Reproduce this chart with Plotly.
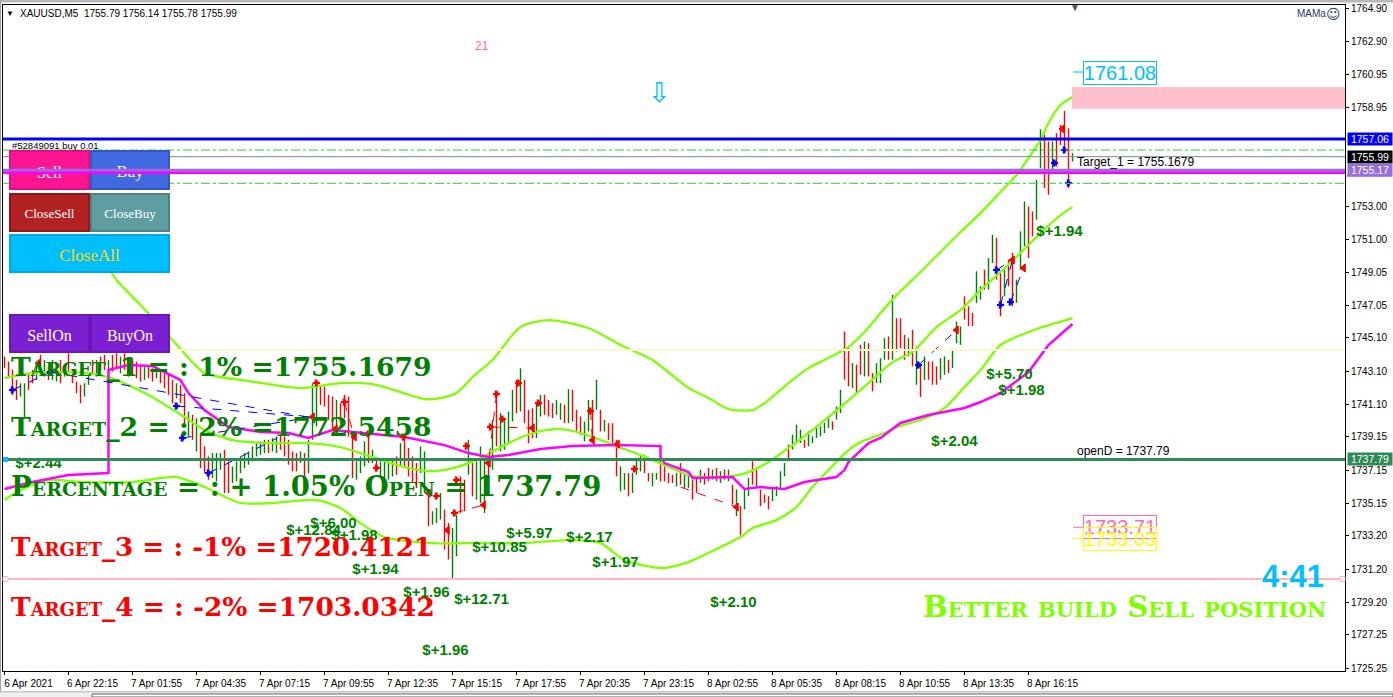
import plotly.graph_objects as go

# ---------- data ----------
high = [
1743.97,1743.67,1743.17,1742.57,1742.37,1742.37,1742.97,1743.17,1743.57,1744.07,
1743.77,1743.37,1743.77,1743.57,1743.77,1743.47,1744.17,1743.17,1742.47,1742.27,
1742.37,1742.97,1743.77,1743.77,1743.97,1744.07,1743.77,1744.07,1744.17,1743.97,
1744.17,1743.77,1743.87,1743.67,1743.47,1743.37,1743.47,1743.27,1743.37,1743.17,
1742.97,1742.87,1742.57,1742.37,1742.27,1741.77,1740.67,1740.47,1740.27,1739.37,
1738.57,1737.97,1738.17,1738.17,1738.17,1738.37,1737.67,1737.37,1737.67,1737.97,
1738.17,1738.27,1738.57,1738.77,1738.87,1738.97,1738.97,1739.07,1739.17,1739.27,
1739.17,1738.97,1738.27,1738.17,1738.27,1738.17,1738.97,1742.37,1742.37,1742.27,
1742.17,1741.67,1741.57,1741.37,1741.17,1741.67,1741.57,1739.47,1737.67,1737.97,
1738.87,1739.37,1738.37,1737.77,1737.67,1737.67,1737.57,1737.77,1737.97,1738.77,
1739.17,1738.47,1737.97,1737.57,1738.57,1738.27,1735.87,1734.67,1734.87,1735.77,
1734.77,1733.97,1733.67,1734.47,1736.77,1736.57,1738.97,1737.57,1737.67,1738.57,
1737.77,1737.77,1740.17,1741.77,1740.57,1740.17,1740.67,1741.97,1742.57,1743.27,
1742.57,1740.77,1740.87,1741.17,1741.67,1741.67,1741.37,1741.17,1741.37,1741.17,
1741.07,1742.01,1741.97,1740.77,1740.37,1740.07,1741.37,1741.37,1742.57,1740.77,
1740.17,1739.97,1739.97,1738.97,1737.37,1736.97,1736.97,1736.97,1737.77,1738.07,
1738.07,1736.97,1736.97,1736.97,1737.77,1737.37,1736.97,1736.87,1736.97,1737.57,
1736.97,1736.88,1736.58,1736.78,1737.18,1736.98,1737.28,1737.18,1737.28,1737.08,
1737.18,1737.18,1736.28,1735.98,1734.98,1736.08,1736.68,1737.68,1737.18,1735.98,
1735.68,1735.58,1736.08,1736.18,1737.08,1737.58,1738.68,1739.28,1739.88,1739.58,
1738.98,1739.48,1739.18,1739.68,1739.78,1739.98,1740.38,1740.08,1740.98,1741.98,
1745.48,1744.48,1743.58,1743.48,1744.68,1744.88,1744.78,1742.98,1743.58,1743.88,
1745.08,1745.18,1747.68,1746.28,1746.28,1745.28,1745.08,1745.58,1744.58,1743.48,
1743.98,1743.68,1743.68,1743.38,1743.88,1743.98,1743.78,1744.38,1746.08,1745.78,
1747.6,1747.0,1746.6,1749.1,1748.2,1749.2,1749.9,1751.3,1751.1,1749.0,
1749.2,1749.8,1750.2,1748.6,1751.5,1753.3,1753.0,1752.7,1754.6,1757.64,
1757.3,1756.9,1756.9,1757.4,1757.9,1758.74,1757.7,1756.2]
low = [
1743.27,1742.77,1741.67,1741.37,1741.57,1740.27,1741.97,1742.37,1742.57,1742.97,
1742.77,1742.57,1742.57,1742.47,1742.37,1742.77,1742.97,1742.37,1741.77,1741.17,
1741.57,1742.27,1742.97,1742.77,1743.17,1743.17,1742.77,1743.07,1743.27,1742.97,
1743.17,1742.77,1742.87,1742.67,1742.47,1742.57,1742.67,1742.47,1742.67,1742.37,
1742.07,1741.67,1741.17,1741.47,1741.17,1739.77,1739.17,1738.97,1738.27,1737.27,
1736.97,1736.57,1736.67,1736.47,1737.17,1735.77,1735.77,1736.37,1736.47,1736.97,
1737.27,1737.47,1737.67,1737.97,1738.07,1738.17,1738.17,1738.27,1738.17,1738.37,
1737.97,1737.47,1737.07,1737.07,1737.57,1736.67,1736.97,1738.97,1739.77,1741.07,
1740.97,1740.17,1739.67,1739.57,1739.97,1740.27,1739.17,1736.67,1736.57,1736.97,
1737.37,1737.57,1737.57,1737.07,1736.77,1736.47,1736.57,1736.77,1736.87,1737.37,
1737.37,1736.77,1736.37,1736.07,1736.97,1735.77,1733.77,1733.87,1733.97,1734.17,
1732.37,1731.77,1730.61,1731.97,1734.57,1734.67,1736.87,1735.57,1735.37,1735.17,
1734.57,1736.67,1737.17,1738.57,1738.27,1738.37,1738.77,1740.07,1740.57,1740.67,
1739.97,1738.77,1739.07,1739.07,1740.37,1740.47,1740.37,1740.27,1740.47,1740.17,
1739.97,1739.97,1740.07,1739.47,1739.27,1738.87,1739.47,1738.87,1740.77,1739.47,
1739.47,1738.97,1738.67,1736.77,1735.87,1735.97,1735.57,1735.77,1736.87,1737.07,
1736.97,1736.47,1736.17,1736.57,1736.47,1736.47,1736.37,1736.37,1736.17,1736.27,
1736.07,1736.08,1735.38,1735.78,1736.38,1736.28,1736.48,1736.58,1736.48,1736.38,
1736.58,1736.48,1735.08,1734.38,1733.22,1734.78,1735.58,1736.28,1736.08,1734.98,
1735.18,1734.78,1735.28,1735.58,1736.08,1736.78,1737.68,1738.38,1738.78,1738.78,
1738.48,1738.58,1738.78,1739.08,1739.18,1739.38,1739.68,1739.58,1740.18,1740.58,
1742.58,1742.18,1742.08,1741.78,1742.88,1742.78,1742.78,1741.88,1742.38,1742.38,
1743.78,1743.78,1743.78,1744.28,1744.48,1743.78,1743.98,1743.38,1742.28,1741.54,
1742.58,1742.58,1742.28,1742.28,1742.58,1742.88,1742.98,1743.28,1744.78,1744.68,
1746.2,1745.8,1745.8,1747.2,1747.4,1748.0,1748.0,1749.6,1748.6,1746.4,
1747.6,1748.2,1747.0,1747.2,1749.2,1750.6,1749.9,1751.2,1752.2,1755.3,
1754.1,1753.7,1755.2,1755.4,1756.7,1756.5,1754.1,1755.7]
direction = list(
"rrrrggrrgr" "grggrgrrrr" "ggrgrrgrrg" "rgrrrgrrgr" "rrrgrrgrgr"
"rrgggrrggg" "ggggggrggr" "rrrrgrgggr" "rrrgrrrrgg" "grgrggggrg"
"rrrrggrggg" "rrggrrgrgg" "grgrggggrg" "rrrggrrrgg" "rgrrrggrgr"
"grrrggrggg" "rrggrrrrgr" "ggrrgrrgrg" "rgrgrggrrr" "rrggggrggg"
"rggggggrgg" "rrgrrgrrgg" "grgrrrgrgr" "grrrggrggg" "rrrggrggrr"
"grrgggrrgg" "rrgrrrrg")
opens = [l if d == "g" else h for h, l, d in zip(high, low, direction)]
closes = [h if d == "g" else l for h, l, d in zip(high, low, direction)]
bars = list(range(len(high)))

upper_x = [24,28,34,42,46,50,61,74,84,92,99,105,109,113,117,122,129,136,146,154,162,169,171,176,181,187,191,196,201,206,211,215,219,223,227,239,244,249,253,256,259,261,264,267]
upper_y = [1750.08,1748.58,1747.07,1744.97,1743.89,1742.98,1742.50,1742.08,1742.38,1742.32,1741.84,1741.42,1741.48,1741.78,1742.74,1743.77,1745.75,1746.17,1745.69,1744.67,1743.77,1742.44,1742.08,1741.48,1740.82,1740.76,1741.36,1742.38,1743.28,1743.89,1744.55,1745.45,1746.59,1747.67,1748.58,1751.46,1752.60,1753.87,1754.89,1755.91,1756.99,1758.02,1759.10,1759.58]
mid_x = [0,7,16,24,28,36,45,50,57,66,76,84,92,100,107,113,119,126,132,138,142,147,153,159,165,171,174,180,186,191,196,202,209,216,222,227,233,239,244,249,254,259,264,267]
mid_y = [1742.68,1742.98,1743.04,1742.86,1742.56,1741.66,1740.34,1739.56,1738.95,1738.77,1738.77,1738.53,1737.93,1737.33,1737.09,1737.33,1737.87,1738.77,1739.38,1739.62,1739.50,1739.14,1738.59,1738.05,1737.45,1736.85,1736.73,1736.73,1737.03,1737.63,1738.47,1739.56,1740.94,1742.38,1743.64,1744.25,1745.75,1746.77,1747.97,1749.06,1750.20,1751.40,1752.48,1752.96]
lower_x = [0,4,11,20,32,43,50,59,67,78,84,89,95,107,119,130,141,149,155,164,171,178,184,187,193,198,202,206,211,214,220,223,229,235,240,244,249,258,267]
lower_y = [1735.35,1735.95,1736.55,1736.43,1736.43,1736.73,1736.13,1735.17,1735.17,1735.35,1734.87,1733.96,1733.12,1732.76,1732.76,1732.76,1732.94,1732.76,1731.74,1731.26,1731.62,1732.40,1733.12,1733.66,1734.14,1734.93,1736.13,1737.15,1738.35,1738.83,1739.38,1739.74,1740.16,1740.88,1742.14,1743.16,1744.67,1745.63,1746.29]
magenta_x = [0,7,16,26,26,31,37,44,46,50,56,64,71,76,82,92,100,110,116,121,126,134,142,153,164,164,165,171,172,182,185,189,195,200,208,210,211,216,219,224,231,240,244,249,256,261,267]
magenta_y = [1736.01,1736.43,1736.85,1736.97,1743.16,1743.46,1743.40,1742.56,1741.78,1740.76,1739.74,1739.44,1739.38,1739.08,1739.56,1739.32,1739.14,1738.65,1738.17,1737.93,1738.05,1738.41,1738.59,1738.65,1738.59,1737.93,1737.57,1737.03,1736.67,1736.73,1736.01,1736.13,1736.01,1736.43,1736.73,1737.15,1737.63,1738.77,1739.08,1739.98,1740.46,1740.88,1741.24,1741.78,1743.04,1744.67,1745.93]

buy_x = [2,11.5,43,44.5,51,228.5,248,249,251.5,262.5,265,266]
buy_y = [1741.96,1743.04,1741.00,1739.08,1736.97,1743.46,1749.18,1747.07,1747.25,1755.61,1756.39,1754.41]
sell_x = [78,85,91,93,99.75,108,112.5,113,115.5,121.5,123,124.5,128.5,133.5,146.5,157.5]
sell_y = [1742.38,1741.24,1739.32,1737.27,1739.14,1735.59,1734.57,1736.55,1738.59,1739.74,1741.72,1740.22,1742.38,1741.18,1740.70,1737.21]
close_x = [8.5,77,82.75,87.5,106,110.75,119.75,121,132,147,153.25,183,238,252,254.75,264.5]
close_y = [1743.58,1740.34,1739.62,1739.14,1735.77,1733.54,1735.05,1737.57,1739.68,1738.95,1738.71,1734.93,1745.57,1749.78,1749.30,1757.66]

blue_dash_x = [2,11.5,None,11.5,75.75,None,43,76.5,None,44.5,77,None,51,68.25,None,228.5,238,None,248,252,None,249,252,None,251.5,254.75]
blue_dash_y = [1741.96,1743.04,None,1743.04,1740.34,None,1741.0,1740.34,None,1739.08,1740.34,None,1736.97,1739.08,None,1743.46,1745.57,None,1749.18,1749.78,None,1747.07,1749.78,None,1747.25,1749.30]
red_dash_x = [169,183,None,112.5,119.75,None,121.5,132,None,123,121,None,146.5,147,None,85,87.5]
red_dash_y = [1736.13,1734.93,None,1734.57,1735.05,None,1739.74,1739.68,None,1741.72,1737.57,None,1740.7,1738.95,None,1741.24,1739.14]

profit_text = ["$+2.44","$+6.00","$+12.84","$+1.98","$+1.94","$+1.96","$+1.96","$+12.71","$+10.85","$+5.97","$+2.17","$+1.97","$+2.10","$+2.04","$+5.70","$+1.98","$+1.94"]
profit_x = [8.5,82.25,77.25,87.5,92.75,105.5,110.25,119.25,123.75,131.25,146.25,152.75,182.25,237.5,251.25,254.25,263.75]
profit_y = [1737.51,1733.90,1733.48,1733.18,1731.14,1729.75,1726.27,1729.33,1732.46,1733.30,1733.06,1731.56,1729.15,1738.83,1742.86,1741.90,1751.46]

x_tick_labels = ["6 Apr 2021","6 Apr 22:15","7 Apr 01:55","7 Apr 04:35","7 Apr 07:15","7 Apr 09:55","7 Apr 12:35","7 Apr 15:15","7 Apr 17:55","7 Apr 20:35","7 Apr 23:15","8 Apr 02:55","8 Apr 05:35","8 Apr 08:15","8 Apr 10:55","8 Apr 13:35","8 Apr 16:15"]
y_tick_values = [1764.90,1762.90,1760.95,1758.95,1753.00,1751.00,1749.05,1747.05,1745.10,1743.10,1741.10,1739.15,1737.15,1735.15,1733.20,1731.20,1729.20,1727.25,1725.25]

big_labels = ["Target_1 = : 1% =1755.1679","Target_2 = : 2% =1772.5458","Percentage = : + 1.05% Open = 1737.79","Target_3 = : -1% =1720.4121","Target_4 = : -2% =1703.0342"]

blue_price, gray_price, purple_price, magenta_price, open_price = 1757.06, 1755.99, 1755.17, 1755.03, 1737.79
dash_prices = [1756.39, 1754.39]
cream_price, pink_price = 1744.37, 1730.6
zone_top, zone_bottom = 1760.18, 1758.87

# ---------- layout helpers ----------
W, H = 1393, 697
L, T, PW, PH = 3, 5, 1342, 666
GREEN_BAND, MAGENTA = "#7FFF00", "#FF00FF"
def X(p): return (p - L) / PW
def Y(p): return 1 - (p - T) / PH

shapes, annos = [], []
def hline(price, color, width, dash="solid"):
    shapes.append(dict(type="line", xref="paper", yref="y", x0=0, x1=1, y0=price, y1=price,
                       line=dict(color=color, width=width, dash=dash), layer="above"))
def rect(x0, y0, x1, y1, fill, line=None, lw=0, label=None, lfont=None):
    s = dict(type="rect", xref="paper", yref="paper", x0=X(x0), x1=X(x1), y0=Y(y0), y1=Y(y1),
             fillcolor=fill, line=dict(color=line or fill, width=lw), layer="above")
    if label:
        s["label"] = dict(text=label, font=lfont, textposition="middle center")
    shapes.append(s)
def text(t, x, y, size, color, family="Liberation Sans", xa="left", ya="middle", **kw):
    font = dict(family=family, size=size, color=color)
    for k in ("weight", "variant"):
        if k in kw: font[k] = kw.pop(k)
    annos.append(dict(text=t, xref="paper", yref="paper", x=X(x), y=Y(y), xanchor=xa, yanchor=ya,
                      showarrow=False, font=font, borderpad=0, **kw))

# lines that the buttons hide
hline(cream_price, "#FFF8CF", 2)
hline(gray_price, "#778899", 1)
for p in dash_prices:
    hline(p, "#32CD32", 1, "dashdot")
hline(pink_price, "#FFB6C1", 2)
hline(open_price, "#2E8B57", 3)
shapes.append(dict(type="rect", xref="paper", yref="y", x0=X(1072), x1=1, y0=zone_bottom, y1=zone_top,
                   fillcolor="#FFC0CB", line=dict(width=0), layer="above"))
rect(3, 457, 8, 462, "#00BFFF")
rect(1340, 576.5, 1345, 581.5, "#FFFFFF", "#FFB6C1", 1)
rect(3, 576.5, 8, 581.5, "#FFFFFF", "#FFB6C1", 1)

# buttons
serif = "Liberation Serif"
rect(10, 151, 89, 189, "#FF1493", "#E0107F", 2, "Sell", dict(family=serif, size=16, color="white"))
rect(91, 151, 169, 189, "#4169E1", "#3458C0", 2, "Buy", dict(family=serif, size=16, color="white"))
rect(10, 194, 89, 231, "#B22222", "#8F1818", 2, "CloseSell", dict(family=serif, size=13, color="white"))
rect(91, 194, 169, 231, "#5F9EA0", "#4C8284", 2, "CloseBuy", dict(family=serif, size=13, color="white"))
rect(10, 235, 169, 272, "#00BFFF", "#00A8E0", 2, "CloseAll", dict(family=serif, size=17, color="#FFD700"))
rect(10, 315, 89, 352, "#7A1FD2", "#6A16B8", 2, "SellOn", dict(family=serif, size=16, color="white"))
rect(91, 315, 169, 352, "#7A1FD2", "#6A16B8", 2, "BuyOn", dict(family=serif, size=16, color="white"))

# lines that cross the buttons
hline(blue_price, "#0000FF", 3)
hline(purple_price, "#9370DB", 3)
hline(magenta_price, MAGENTA, 2.5)

# window chrome
rect(0, 0, 1393, 2.5, "#B8B8B8")
rect(0, 0, 1, 692, "#A0A0A0")
rect(0, 691, 1393, 697, "#F0F0F0")
rect(0, 691, 1393, 692.5, "#C8C8C8")
rect(92, 694, 1393, 697, "#FFFFFF", "#606060", 1)

# tag boxes on the right
for price, color, label, yc in [(1761.08, "#00BFFF", "1761.08", 73), (1733.71, "#FF69B4", "1733.71", 527),
                                (1733.03, "#FFFF00", "1733.03", 538.5)]:
    shapes.append(dict(type="line", xref="paper", yref="y", x0=X(1073), x1=X(1083), y0=price, y1=price,
                       line=dict(color=color, width=1), layer="above"))
    annos.append(dict(text=label, xref="paper", yref="paper", x=X(1120), y=Y(yc), xanchor="center", yanchor="middle",
                      showarrow=False, width=72, height=22, bordercolor=color, borderwidth=1, borderpad=0,
                      font=dict(family="Liberation Sans", size=20, color=color)))

# right-hand price tags
for label, bg, yc in [("1757.06", "#0000FF", 139), ("1755.99", "#000000", 156.5), ("1755.17", "#9370DB", 170), ("1737.79", "#2E8B57", 459)]:
    annos.append(dict(text=label, xref="paper", yref="paper", x=X(1347), y=Y(yc), xanchor="left", yanchor="middle",
                      showarrow=False, width=44, height=12, bgcolor=bg, borderpad=0,
                      font=dict(family="Liberation Sans", size=10.5, color="white")))
rect(1347, 175, 1391, 176.5, MAGENTA)

# small texts
text("\u25BC", 5, 14, 8, "#000000")
text("XAUUSD,M5  1755.79 1756.14 1755.78 1755.99", 19, 14, 10, "#000000")
text("MAMa", 1327, 14, 10, "#1F3A5F", xa="right")
text("\u263A", 1342, 14, 14, "#1F3A5F", family="DejaVu Sans", xa="right")
text("\u25BC", 1075, 8, 10, "#4A5560", xa="center")
text("21", 482, 46, 12, "#FF69B4", xa="center")
text("\u21E9", 659, 92, 27, "#00BFFF", family="DejaVu Sans", xa="center")
text("#52849091 buy 0.01", 11, 145, 9.5, "#000000")
text("Target_1 = 1755.1679", 1076, 162, 12, "#000000")
text("openD = 1737.79", 1076, 451, 12, "#000000")
text("4:41", 1325, 576, 31, "#00BFFF", xa="right", weight="bold")
text("Better build Sell position", 1327, 606, 29.4, GREEN_BAND, family="DejaVu Serif", xa="right", weight="bold", variant="small-caps")

# big small-caps block
for label, yc, color, size in zip(big_labels, [366, 426, 486, 546, 606],
                                  ["#008000", "#008000", "#008000", "#FF0000", "#FF0000"],
                                  [26.7, 26.7, 27.5, 26.2, 26.4]):
    text(label, 10, yc, size, color, family="DejaVu Serif", weight="bold", variant="small-caps")

# ---------- figure ----------
fig = go.Figure()
fig.add_trace(go.Ohlc(x=bars, open=opens, high=high, low=low, close=closes, tickwidth=0,
                      increasing=dict(line=dict(color="#008000", width=1.4)),
                      decreasing=dict(line=dict(color="#FF0000", width=1.4))))
for xs, ys in [(upper_x, upper_y), (mid_x, mid_y), (lower_x, lower_y)]:
    fig.add_trace(go.Scatter(x=xs, y=ys, mode="lines", line=dict(color=GREEN_BAND, width=2.3, shape="spline", smoothing=0.7)))
fig.add_trace(go.Scatter(x=magenta_x, y=magenta_y, mode="lines", line=dict(color=MAGENTA, width=2.5)))
fig.add_trace(go.Scatter(x=blue_dash_x, y=blue_dash_y, mode="lines", line=dict(color="#0000FF", width=1, dash="dash"), connectgaps=False))
fig.add_trace(go.Scatter(x=red_dash_x, y=red_dash_y, mode="lines", line=dict(color="#FF0000", width=1, dash="dash"), connectgaps=False))
for xs, ys, color in [(buy_x, buy_y, "#0000FF"), (sell_x, sell_y, "#FF0000")]:
    fig.add_trace(go.Scatter(x=xs, y=ys, mode="markers", marker=dict(symbol="cross-thin", size=5, line=dict(color=color, width=2))))
    fig.add_trace(go.Scatter(x=xs, y=ys, mode="markers", marker=dict(symbol="triangle-right", size=7, color=color)))
fig.add_trace(go.Scatter(x=close_x, y=close_y, mode="markers", marker=dict(symbol="triangle-left", size=7, color="#FF0000", line=dict(color="#FF0000", width=1))))
fig.add_trace(go.Scatter(x=profit_x, y=profit_y, mode="text", text=profit_text, textposition="middle center",
                         textfont=dict(family="Liberation Sans", size=15, color="#008000", weight="bold")))

fig.update_layout(
    width=W, height=H, margin=dict(l=L, r=W - L - PW, t=T, b=H - T - PH),
    paper_bgcolor="white", plot_bgcolor="white", showlegend=False, shapes=shapes, annotations=annos,
    hovermode=False,
    xaxis=dict(range=[-0.375, 335.125], rangeslider=dict(visible=False), showgrid=False, zeroline=False,
               tickmode="array", tickvals=[i * 16 for i in range(len(x_tick_labels))], ticktext=x_tick_labels,
               ticks="outside", ticklen=3, tickcolor="black", tickwidth=1, showline=True, linecolor="black",
               linewidth=1, mirror=True, tickangle=0, ticklabelshift=24,
               tickfont=dict(family="Liberation Sans", size=10, color="black")),
    yaxis=dict(range=[1725.07, 1765.11], side="right", showgrid=False, zeroline=False,
               tickmode="array", tickvals=y_tick_values, ticktext=[f"{v:.2f}" for v in y_tick_values],
               ticks="outside", ticklen=3, tickcolor="black", tickwidth=1, showline=True, linecolor="black",
               linewidth=1, mirror=True,
               tickfont=dict(family="Liberation Sans", size=10, color="black")),
)

fig.write_html("out.html", config={"displayModeBar": False},
               post_script="document.body.style.margin='0';document.documentElement.style.overflow='hidden';")
